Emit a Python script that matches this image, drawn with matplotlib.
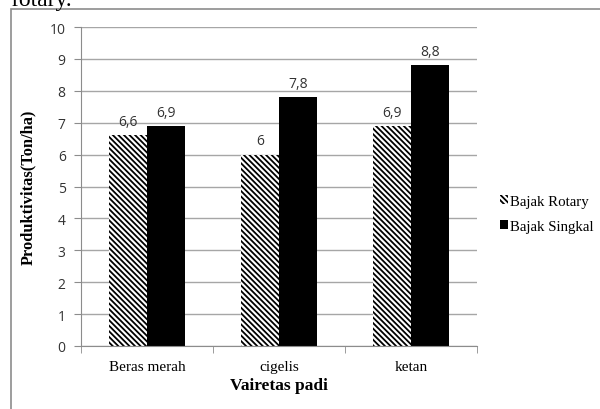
import numpy as np
import matplotlib.pyplot as plt
from matplotlib.patches import Rectangle, Patch

# productivity per rice variety for the two plough types
varieties = ["Beras merah", "cigelis", "ketan"]
rotary = [6.6, 6.0, 6.9]
singkal = [6.9, 7.8, 8.8]
series_names = ["Bajak Rotary", "Bajak Singkal"]

serif = "Liberation Serif"
sans = "Open Sans"
plt.rcParams["hatch.linewidth"] = 1.3
hatch = "\\" * 6

fig = plt.figure(figsize=(6, 4.1), dpi=100)

# outer chart frame, running off the right and bottom edges
fig.patches.append(Rectangle((11/600, -0.1), 1.2, (400/410) + 0.1, transform=fig.transFigure,
                             fill=False, edgecolor="#8c8c8c", linewidth=1.2))
fig.text(12/600, 404/410, "rotary.", family=serif, fontsize=17, va="baseline", ha="left")

ax = fig.add_axes([81/600, 63/410, 396/600, 319/410])

x = np.arange(len(varieties))
w = 0.29
b1 = ax.bar(x - w/2, rotary, w, color="white", edgecolor="black", hatch=hatch, linewidth=0)
b2 = ax.bar(x + w/2, singkal, w, color="black", edgecolor="black", linewidth=0)

for bars, vals in ((b1, rotary), (b2, singkal)):
    for bar, v in zip(bars, vals):
        ax.text(bar.get_x() + bar.get_width()/2, v + 0.2, ("%g" % v).replace(".", ","),
                ha="center", va="bottom", family=sans, fontsize=10, color="#333333")

ax.set_xlim(-0.5, len(varieties) - 0.5)
ax.set_ylim(0, 10)
ax.set_yticks(range(0, 11))
ax.set_yticklabels([str(i) for i in range(0, 11)], family=sans, fontsize=10, color="#333333")
ax.set_xticks(x)
ax.set_xticklabels(varieties, family=serif, fontsize=11)
ax.set_xticks(np.arange(-0.5, len(varieties)), minor=True)
ax.tick_params(axis="x", which="major", length=0, pad=10)
ax.tick_params(axis="x", which="minor", length=5, color="#8c8c8c")
ax.tick_params(axis="y", length=5, color="#8c8c8c", pad=6)

ax.yaxis.grid(True, color="#a6a6a6", linewidth=1)
ax.set_axisbelow(True)
for s in ("top", "right"):
    ax.spines[s].set_visible(False)
for s in ("left", "bottom"):
    ax.spines[s].set_color("#8c8c8c")

ax.set_xlabel("Vairetas padi", family=serif, fontsize=12.5, fontweight="bold", labelpad=3)
ax.set_ylabel("Produktivitas(Ton/ha)", family=serif, fontsize=11.8, fontweight="bold", labelpad=10)

handles = [Patch(facecolor="white", edgecolor="black", hatch=hatch, linewidth=0),
           Patch(facecolor="black", edgecolor="black", linewidth=0)]
fig.legend(handles, series_names, loc="center left", bbox_to_anchor=(500/600, 195/410),
           frameon=False, prop={"family": serif, "size": 10.7}, handlelength=0.55,
           handleheight=0.55, handletextpad=0.15, labelspacing=0.8, borderpad=0,
           borderaxespad=0)

fig.savefig("out.png", dpi=100)
